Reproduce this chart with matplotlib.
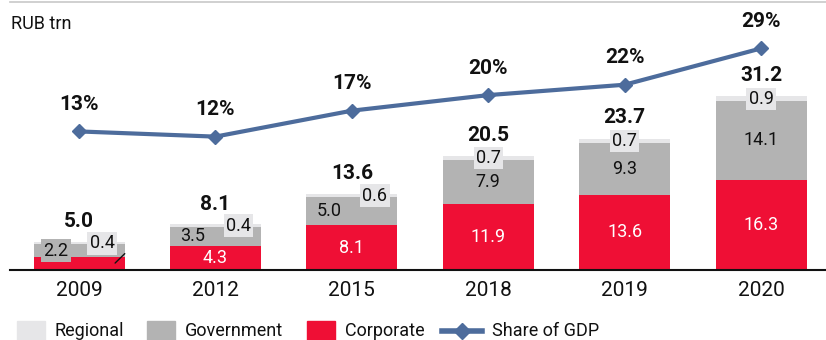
import matplotlib
matplotlib.use("Agg")
import matplotlib.pyplot as plt
from matplotlib.patches import Rectangle
from matplotlib.lines import Line2D
import numpy as np

plt.rcParams['font.family'] = ['Roboto', 'DejaVu Sans']

years = ['2009', '2012', '2015', '2018', '2019', '2020']
corporate = [2.4, 4.3, 8.1, 11.9, 13.6, 16.3]
government = [2.2, 3.5, 5.0, 7.9, 9.3, 14.1]
regional = [0.4, 0.4, 0.6, 0.7, 0.7, 0.9]
totals = [5.0, 8.1, 13.6, 20.5, 23.7, 31.2]
gdp_share = [13, 12, 17, 20, 22, 29]

RED = '#ef0f35'
GRAY = '#b3b3b3'
LIGHT = '#e6e6e8'
BLUE = '#4d6c9c'
INK = '#111111'

W, H = 826, 340
fig = plt.figure(figsize=(W / 100, H / 100), dpi=100)

# plot area in pixels: x 10..826, y 10..270 (from top)
ax = fig.add_axes([10 / W, (H - 270) / H, 816 / W, 260 / H])
x = np.arange(len(years))
bw = 0.667

ax.bar(x, corporate, bw, color=RED, zorder=2)
ax.bar(x, government, bw, bottom=corporate, color=GRAY, zorder=2)
gov_top = np.array(corporate) + np.array(government)
ax.bar(x, regional, bw, bottom=gov_top, color=LIGHT, zorder=2)

ax.set_xlim(-0.506, 5.476)
ax.set_ylim(0, 46.85)
for s in ['top', 'right', 'left']:
    ax.spines[s].set_visible(False)
ax.spines['bottom'].set_color(INK)
ax.spines['bottom'].set_linewidth(1.5)
ax.set_yticks([])
ax.set_xticks(x)
ax.set_xticklabels(years, fontsize=15, color=INK)
ax.tick_params(axis='x', length=0, pad=8)

# segment labels
for i in range(len(years)):
    shift = 0 if i >= 3 else 23
    # corporate
    if i > 0:
        ax.annotate(f'{corporate[i]:.1f}', (x[i], corporate[i] / 2), ha='center', va='center',
                    fontsize=13, color='white', zorder=5)
    # government
    gy = corporate[i] + government[i] / 2
    gkw = dict(ha='center', va='center', fontsize=13, color=INK, zorder=5,
               xytext=(-shift, 0), textcoords='offset pixels')
    if i == 0:
        gkw['bbox'] = dict(boxstyle='square,pad=0.15', fc=GRAY, ec='none')
    ax.annotate(f'{government[i]:.1f}', (x[i], gy), **gkw)
    # regional
    ry = gov_top[i] + regional[i] / 2
    ax.annotate(f'{regional[i]:.1f}', (x[i], ry), xytext=(shift, 0), textcoords='offset pixels',
                ha='center', va='center', fontsize=13, color=INK, zorder=6,
                bbox=dict(boxstyle='square,pad=0.12', fc=LIGHT, ec='none'))
    # total
    ax.annotate(f'{totals[i]:.1f}', (x[i], totals[i]), xytext=(0, 21), textcoords='offset pixels',
                ha='center', va='center', fontsize=15, fontweight='bold', color=INK)

# leader line for the small 2009 corporate segment
ax.annotate('', xy=(x[0] + 0.35, corporate[0] + 0.9), xytext=(x[0] + 0.25, corporate[0] - 1.5),
            arrowprops=dict(arrowstyle='-', color=INK, lw=1), zorder=6)

ax2 = ax.twinx()
ax2.set_ylim(-13.7, 36.4)
ax2.plot(x, gdp_share, color=BLUE, lw=3, marker='D', ms=7.5, zorder=4)
ax2.axis('off')
for i, v in enumerate(gdp_share):
    ax2.annotate(f'{v}%', (x[i], v), xytext=(0, 27), textcoords='offset pixels',
                 ha='center', va='center', fontsize=15, fontweight='bold', color=INK)

# unit caption and top rule
fig.text(11 / W, 1 - 24 / H, 'RUB trn', fontsize=13, color=INK, va='center', ha='left')
fig.add_artist(Line2D([10 / W, 1], [1 - 2 / H, 1 - 2 / H], color='#c8c8c8', lw=1.2))

# legend
ly = 1 - 331 / H
items = [(17, 55, 'Regional', LIGHT), (147, 185, 'Government', GRAY), (307, 345, 'Corporate', RED)]
for px, tx, label, c in items:
    fig.add_artist(Rectangle((px / W, 0), 28 / W, 19 / H, color=c, transform=fig.transFigure))
    fig.text(tx / W, ly, label, fontsize=13, color=INK, va='center', ha='left')
fig.add_artist(Line2D([442 / W, 482 / W], [ly, ly], color=BLUE, lw=4, transform=fig.transFigure))
fig.add_artist(Line2D([462 / W], [ly], color=BLUE, marker='D', ms=8, transform=fig.transFigure))
fig.text(492 / W, ly, 'Share of GDP', fontsize=13, color=INK, va='center', ha='left')

fig.savefig('out.png', dpi=100)
